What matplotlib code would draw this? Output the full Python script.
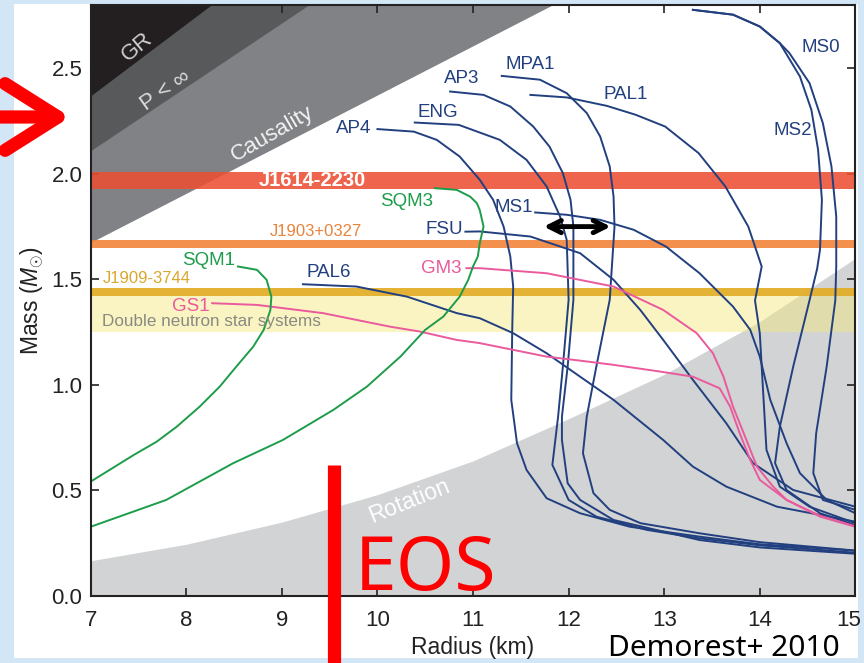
import matplotlib.pyplot as plt
import matplotlib.transforms as mtransforms
from matplotlib.patches import Rectangle, FancyArrowPatch
from matplotlib.lines import Line2D

plt.rcParams['font.family'] = ['Liberation Sans', 'DejaVu Sans']
plt.rcParams['mathtext.fontset'] = 'custom'
plt.rcParams['mathtext.rm'] = 'Liberation Sans'
plt.rcParams['mathtext.it'] = 'Liberation Sans:italic'

# excluded regions (radius km, mass Msun)
gr_r = [7.0, 8.26]
gr_m = [2.37, 2.80]
pinf_r = [7.0, 9.28]
pinf_m = [2.11, 2.80]
caus_r = [7.0, 11.83]
caus_m = [1.675, 2.80]
rot_r = [7, 8, 9, 10, 11, 12, 13, 14, 15]
rot_m = [0.167, 0.245, 0.35, 0.48, 0.64, 0.84, 1.05, 1.30, 1.60]

# pulsar mass bands (low, high)
j1614 = (1.93, 2.01)
j1903 = (1.648, 1.687)
j1909 = (1.419, 1.458)
dns = (1.25, 1.46)

# mass-radius curves
ap4_r = [10.00, 10.38, 10.62, 10.86, 11.07, 11.21, 11.32, 11.39, 11.42, 11.41, 11.40, 11.46, 11.56, 11.77, 12.12, 12.64, 13.37, 14.0, 15.0]
ap4_m = [2.212, 2.200, 2.161, 2.082, 1.972, 1.877, 1.750, 1.608, 1.466, 1.26, 0.929, 0.724, 0.597, 0.463, 0.392, 0.328, 0.281, 0.245, 0.215]
eng_r = [10.39, 10.85, 11.28, 11.56, 11.77, 11.91, 11.98, 12.0, 11.94, 11.89, 11.83, 12.0, 12.29, 12.82, 13.37, 14.0, 15.0]
eng_m = [2.243, 2.232, 2.161, 2.066, 1.940, 1.798, 1.687, 1.403, 1.087, 0.850, 0.621, 0.455, 0.376, 0.313, 0.273, 0.24, 0.205]
ap3_r = [10.76, 11.11, 11.39, 11.63, 11.80, 11.94, 12.02, 12.05, 12.05, 11.99, 11.93, 11.93, 11.99, 12.12, 12.47, 13.37, 14.0, 15.0]
ap3_m = [2.39, 2.374, 2.319, 2.224, 2.129, 2.003, 1.877, 1.750, 1.403, 1.087, 0.85, 0.739, 0.534, 0.455, 0.360, 0.265, 0.23, 0.20]
mpa1_r = [11.30, 11.70, 11.98, 12.19, 12.33, 12.43, 12.47, 12.48, 12.43, 12.29, 12.19, 12.15, 12.26, 12.43, 12.75, 13.37, 14.0, 15.0]
mpa1_m = [2.464, 2.446, 2.382, 2.288, 2.177, 2.035, 1.893, 1.750, 1.403, 1.087, 0.850, 0.676, 0.487, 0.408, 0.345, 0.297, 0.255, 0.215]
pal1_r = [11.60, 11.98, 12.40, 12.70, 13.01, 13.36, 13.64, 13.88, 14.02, 13.95, 14.0, 14.04, 14.07, 14.21, 14.52, 15.0]
pal1_m = [2.374, 2.362, 2.322, 2.28, 2.224, 2.098, 1.94, 1.75, 1.561, 1.40, 1.245, 0.929, 0.692, 0.518, 0.423, 0.345]
ms1_r = [11.65, 11.98, 12.33, 12.68, 13.02, 13.37, 13.72, 13.90, 14.0, 14.11, 14.28, 14.42, 14.70, 15.0]
ms1_m = [1.817, 1.806, 1.782, 1.735, 1.655, 1.529, 1.371, 1.261, 1.134, 0.929, 0.724, 0.582, 0.455, 0.392]
fsu_r = [10.92, 11.07, 11.60, 12.12, 12.47, 12.75, 12.99, 13.30, 13.65, 13.93, 14.35, 15.0]
fsu_m = [1.726, 1.727, 1.703, 1.624, 1.498, 1.355, 1.213, 1.024, 0.818, 0.629, 0.502, 0.423]
pal6_r = [9.22, 9.78, 10.31, 10.83, 11.07, 11.42, 11.77, 12.12, 12.47, 12.99, 13.30, 13.65, 14.18, 15.0]
pal6_m = [1.477, 1.466, 1.418, 1.340, 1.316, 1.245, 1.150, 1.039, 0.929, 0.739, 0.613, 0.518, 0.423, 0.352]
ms2_r = [13.30, 13.72, 14.0, 14.21, 14.42, 14.54, 14.61, 14.65, 14.63, 14.60, 14.52, 14.35, 14.21, 14.16, 14.28, 14.63, 15.0]
ms2_m = [2.777, 2.754, 2.698, 2.619, 2.461, 2.303, 2.114, 1.877, 1.640, 1.55, 1.40, 1.087, 0.802, 0.629, 0.502, 0.392, 0.336]
ms0_r = [13.30, 13.72, 14.0, 14.21, 14.31, 14.52, 14.66, 14.75, 14.80, 14.80, 14.79, 14.70, 14.59, 14.56, 14.66, 15.0]
ms0_m = [2.777, 2.754, 2.698, 2.619, 2.572, 2.430, 2.240, 2.035, 1.798, 1.56, 1.40, 1.087, 0.771, 0.582, 0.455, 0.408]
gs1_r = [8.27, 8.74, 9.43, 10.13, 10.44, 10.83, 11.07, 11.42, 11.77, 12.12, 12.47, 12.96, 13.30, 13.58, 13.69, 13.79, 13.90, 14.0, 14.28, 14.63, 15.0]
gs1_m = [1.387, 1.379, 1.340, 1.276, 1.253, 1.213, 1.198, 1.166, 1.134, 1.115, 1.095, 1.063, 1.039, 0.984, 0.897, 0.771, 0.645, 0.550, 0.455, 0.376, 0.328]
gm3_r = [10.93, 11.07, 11.77, 12.47, 12.99, 13.34, 13.51, 13.62, 13.72, 13.86, 13.97, 14.14, 14.28, 14.63, 15.0]
gm3_m = [1.553, 1.553, 1.529, 1.466, 1.355, 1.245, 1.150, 1.039, 0.897, 0.739, 0.613, 0.518, 0.455, 0.38, 0.33]
sqm1_r = [8.54, 8.74, 8.84, 8.89, 8.88, 8.81, 8.70, 8.52, 8.35, 8.14, 7.90, 7.69, 7.45, 7.0]
sqm1_m = [1.561, 1.545, 1.498, 1.418, 1.355, 1.261, 1.181, 1.085, 0.992, 0.897, 0.802, 0.731, 0.668, 0.542]
sqm3_r = [10.60, 10.83, 10.97, 11.04, 11.07, 11.11, 11.07, 11.05, 11.0, 10.95, 10.86, 10.69, 10.50, 10.24, 9.89, 9.54, 9.01, 8.49, 7.79, 7.0]
sqm3_m = [1.932, 1.924, 1.892, 1.861, 1.829, 1.750, 1.671, 1.608, 1.561, 1.498, 1.418, 1.324, 1.261, 1.134, 0.992, 0.882, 0.739, 0.629, 0.455, 0.328]

# curve labels
label_names = ['AP4', 'ENG', 'AP3', 'MPA1', 'PAL1', 'MS0', 'MS2', 'MS1', 'FSU', 'SQM3', 'GM3', 'PAL6', 'SQM1', 'GS1']
label_r = [9.755, 10.63, 10.88, 11.60, 12.60, 14.64, 14.35, 11.43, 10.70, 10.30, 10.67, 9.49, 8.23, 8.05]
label_m = [2.216, 2.29, 2.45, 2.52, 2.377, 2.60, 2.206, 1.841, 1.735, 1.87, 1.552, 1.533, 1.59, 1.37]

blue = '#22407f'
green = '#1d9c4a'
pink = '#ea5a9c'
label_colors = [blue] * 9 + [green, pink, blue, green, pink]

curves = [
    (ap4_r, ap4_m, blue), (eng_r, eng_m, blue), (ap3_r, ap3_m, blue),
    (mpa1_r, mpa1_m, blue), (pal1_r, pal1_m, blue), (ms1_r, ms1_m, blue),
    (fsu_r, fsu_m, blue), (pal6_r, pal6_m, blue), (ms2_r, ms2_m, blue),
    (ms0_r, ms0_m, blue), (gs1_r, gs1_m, pink), (gm3_r, gm3_m, pink),
    (sqm1_r, sqm1_m, green), (sqm3_r, sqm3_m, green),
]

fig = plt.figure(figsize=(8.64, 6.63), dpi=100, facecolor='#d3e6f6')
# white slide panel behind the chart
bg = fig.add_axes([0, 0, 1, 1], zorder=-1)
bg.axis('off')
bg.add_patch(Rectangle((14 / 864, 1 - 658 / 663), 844 / 864, 654 / 663,
                       transform=bg.transAxes, facecolor='white', edgecolor='none'))

ax = fig.add_axes([0.105, 0.1011, 0.885, 0.8914], zorder=1)
ax.set_xlim(7, 15)
ax.set_ylim(0, 2.8)

# shaded constraint regions
ax.fill_between(caus_r, caus_m, 2.8, color='#808285', lw=0, zorder=1)
ax.fill_between(pinf_r, pinf_m, 2.8, color='#58595b', lw=0, zorder=1)
ax.fill_between(gr_r, gr_m, 2.8, color='#231f20', lw=0, zorder=1)
ax.fill_between(rot_r, 0, rot_m, color='#d1d3d4', lw=0, zorder=1)

# mass bands
ax.axhspan(*dns, color='#f5e77a', alpha=0.45, lw=0, zorder=2)
ax.axhspan(*j1909, color='#e2ab25', alpha=0.9, lw=0, zorder=2)
ax.axhspan(*j1903, color='#f3843a', alpha=0.9, lw=0, zorder=2)
ax.axhspan(*j1614, color='#ec4f33', alpha=0.88, lw=0, zorder=2)

for r, m, c in curves:
    ax.plot(r, m, color=c, lw=1.4, zorder=3, solid_joinstyle='round')

for name, r, m, c in zip(label_names, label_r, label_m, label_colors):
    ax.text(r, m, name, color=c, fontsize=13.5, ha='center', va='center', zorder=4)

ax.text(9.32, 1.97, 'J1614-2230', color='white', fontsize=14.5, fontweight='bold',
        ha='center', va='center', zorder=4)
ax.text(9.36, 1.727, 'J1903+0327', color='#e8833a', fontsize=12, ha='center', va='center', zorder=4)
ax.text(7.59, 1.505, 'J1909-3744', color='#d9a82e', fontsize=12, ha='center', va='center', zorder=4)
ax.text(8.26, 1.30, 'Double neutron star systems', color='#8a8a82', fontsize=12.3,
        ha='center', va='center', zorder=4)

ax.text(7.485, 2.602, 'GR', color='#d0d0d0', fontsize=16, rotation=40, ha='center', va='center', zorder=4)
ax.text(7.78, 2.393, 'P < ∞', color='#dadada', fontsize=16, rotation=35, ha='center', va='center', zorder=4)
ax.text(8.90, 2.19, 'Causality', color='#f2f2f2', fontsize=16, rotation=30, ha='center', va='center', zorder=4)
ax.text(10.33, 0.45, 'Rotation', color='white', fontsize=16.5, rotation=22, ha='center', va='center', zorder=4)

ax.annotate('', xy=(12.47, 1.75), xytext=(11.71, 1.75), zorder=6,
            arrowprops=dict(arrowstyle='<->', lw=3.5, color='black', mutation_scale=22))

ax.set_xticks(range(7, 16))
ax.set_yticks([0.0, 0.5, 1.0, 1.5, 2.0, 2.5])
ax.set_yticklabels(['0.0', '0.5', '1.0', '1.5', '2.0', '2.5'])
ax.tick_params(direction='in', top=True, right=True, length=6, width=1.2,
               labelsize=16, colors='#222222')
ax.tick_params(axis='x', pad=10)
ax.tick_params(axis='y', pad=6)
for s in ax.spines.values():
    s.set_linewidth(1.5)
    s.set_color('#222222')
    s.set_zorder(5)

# nudge the last x tick label so it stays inside the picture
last = ax.get_xticklabels()[-1]
last.set_transform(last.get_transform() +
                   mtransforms.ScaledTranslation(-5 / 72, 0, fig.dpi_scale_trans))

ax.set_xlabel('Radius (km)', fontsize=16.5, color='#222222', labelpad=4)
ax.set_ylabel('Mass ($M_{\\odot}$)', fontsize=16.5, color='#222222', labelpad=4)

# slide annotations
fig.add_artist(FancyArrowPatch((-5 / 864, 1 - 117 / 663), (73 / 864, 1 - 117 / 663),
                               transform=fig.transFigure, color='red', lw=9.5,
                               arrowstyle='->,head_length=0.95,head_width=0.6',
                               mutation_scale=40, capstyle='round', joinstyle='round',
                               zorder=10))
fig.add_artist(Line2D([333.5 / 864, 333.5 / 864], [0, 1 - 465 / 663],
                      transform=fig.transFigure, color='red', lw=9.5,
                      solid_capstyle='butt', zorder=10))
fig.text(355 / 864, 1 - 590 / 663, 'EOS', color='red', fontsize=54, family='Noto Sans',
         ha='left', va='baseline', zorder=10)
fig.text(608 / 864, 1 - 656 / 663, 'Demorest+ 2010', color='black', fontsize=21.5,
         family='Noto Sans', ha='left', va='baseline', zorder=10)

fig.savefig('out.png', dpi=100, facecolor=fig.get_facecolor())
